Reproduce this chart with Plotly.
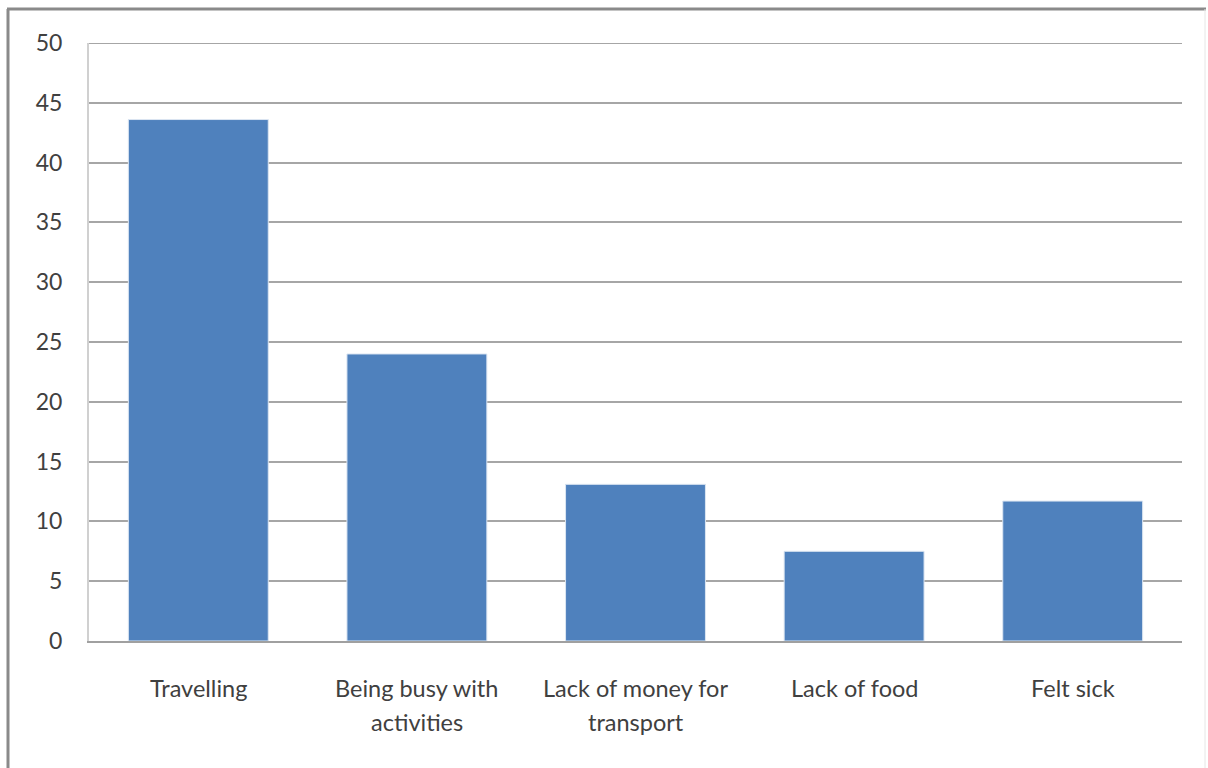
import plotly.graph_objects as go

categories = ["Travelling", "Being busy with<br>activities", "Lack of money for<br>transport", "Lack of food", "Felt sick"]
values = [43.6, 24.0, 13.1, 7.5, 11.7]
y_ticks = [0, 5, 10, 15, 20, 25, 30, 35, 40, 45, 50]

FONT = "Lato"
TXT = "#404040"
GRID = "#a6a6a6"

fig = go.Figure()
fig.add_trace(go.Bar(
    x=list(range(len(categories))), y=values,
    marker=dict(color="#4f81bd", line=dict(color="#dce6f2", width=1)),
    width=0.64,
))

# category labels as annotations (line by line for spacing)
for i, lab in enumerate(categories):
    for j, line in enumerate(lab.split("<br>")):
        fig.add_annotation(x=i, y=0, xref="x", yref="y", text=line, showarrow=False,
                           yanchor="middle", yshift=-47 - 34 * j,
                           font=dict(family=FONT, size=23.5, color=TXT))

# top gridline (at the range maximum)
fig.add_shape(type="line", xref="paper", yref="y", x0=0, x1=1, y0=max(y_ticks), y1=max(y_ticks),
              line=dict(color=GRID, width=2), layer="below")

L, R, T, B = 89, 26, 43, 127
W, H = 1208, 768
pw, ph = W - L - R, H - T - B
def px(x): return (x - L) / pw
def py(y): return (H - B - y) / ph

# outer frame
fig.add_shape(type="line", xref="paper", yref="paper", x0=px(8), x1=px(8), y0=py(800), y1=py(9),
              line=dict(color="#8a8a8a", width=3))
fig.add_shape(type="line", xref="paper", yref="paper", x0=px(7), x1=px(1206), y0=py(9), y1=py(9),
              line=dict(color="#8a8a8a", width=3))
fig.add_shape(type="line", xref="paper", yref="paper", x0=px(1205), x1=px(1205), y0=py(800), y1=py(9),
              line=dict(color="#e6e6e6", width=1))

fig.update_layout(
    width=W, height=H,
    margin=dict(l=L, r=R, t=T, b=B),
    paper_bgcolor="white", plot_bgcolor="white",
    showlegend=False,
    bargap=0.36,
    xaxis=dict(range=[-0.5, 4.5], showticklabels=False, showgrid=False, zeroline=False,
               showline=True, linecolor="#a0a0a0", linewidth=2, ticks=""),
    yaxis=dict(range=[0, 50], tickvals=y_ticks, showgrid=True, gridcolor=GRID, gridwidth=2,
               zeroline=False, showline=True, linecolor="#d0d0d0", linewidth=2,
               ticks="", ticklabelstandoff=20,
               tickfont=dict(family=FONT, size=23, color=TXT)),
)

fig.write_html("out.html")
